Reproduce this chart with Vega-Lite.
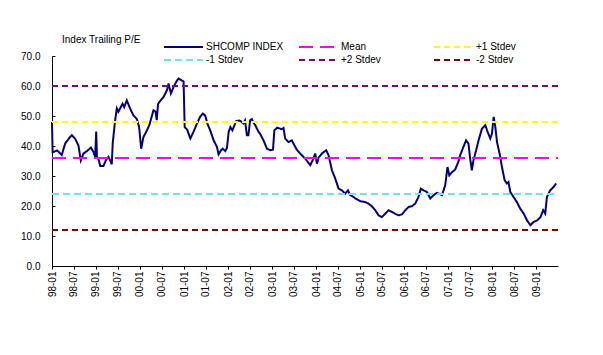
{
  "$schema": "https://vega.github.io/schema/vega-lite/v6.json",
  "width": 506,
  "height": 210,
  "autosize": {"type": "none"},
  "padding": {"left": 52, "top": 56, "right": 45, "bottom": 89},
  "background": "white",
  "title": {"text": "Index Trailing P/E", "anchor": "start", "frame": "group", "offset": -4, "dx": 10, "fontSize": 10, "fontWeight": "normal", "font": "Liberation Sans", "color": "black"},
  "config": {"view": {"stroke": null}, "font": "Liberation Sans"},
  "data": {"values": [
    {"date": "1998-01-01", "value": 48, "series": "SHCOMP INDEX"},
    {"date": "1998-01-06", "value": 38, "series": "SHCOMP INDEX"},
    {"date": "1998-01-14", "value": 38.0, "series": "SHCOMP INDEX"},
    {"date": "1998-02-12", "value": 38.5, "series": "SHCOMP INDEX"},
    {"date": "1998-03-09", "value": 37.6, "series": "SHCOMP INDEX"},
    {"date": "1998-03-23", "value": 37, "series": "SHCOMP INDEX"},
    {"date": "1998-04-20", "value": 40.8, "series": "SHCOMP INDEX"},
    {"date": "1998-05-31", "value": 43, "series": "SHCOMP INDEX"},
    {"date": "1998-06-14", "value": 43.6, "series": "SHCOMP INDEX"},
    {"date": "1998-07-11", "value": 42.5, "series": "SHCOMP INDEX"},
    {"date": "1998-08-08", "value": 40.2, "series": "SHCOMP INDEX"},
    {"date": "1998-08-28", "value": 35.2, "series": "SHCOMP INDEX"},
    {"date": "1998-09-19", "value": 37.5, "series": "SHCOMP INDEX"},
    {"date": "1998-10-22", "value": 38.4, "series": "SHCOMP INDEX"},
    {"date": "1998-11-20", "value": 39.5, "series": "SHCOMP INDEX"},
    {"date": "1998-12-11", "value": 38, "series": "SHCOMP INDEX"},
    {"date": "1998-12-25", "value": 36.4, "series": "SHCOMP INDEX"},
    {"date": "1999-01-03", "value": 44.8, "series": "SHCOMP INDEX"},
    {"date": "1999-01-09", "value": 36.4, "series": "SHCOMP INDEX"},
    {"date": "1999-01-22", "value": 35.5, "series": "SHCOMP INDEX"},
    {"date": "1999-02-06", "value": 33.3, "series": "SHCOMP INDEX"},
    {"date": "1999-03-03", "value": 33.3, "series": "SHCOMP INDEX"},
    {"date": "1999-03-25", "value": 35.3, "series": "SHCOMP INDEX"},
    {"date": "1999-04-14", "value": 36.4, "series": "SHCOMP INDEX"},
    {"date": "1999-04-28", "value": 35.3, "series": "SHCOMP INDEX"},
    {"date": "1999-05-12", "value": 33.9, "series": "SHCOMP INDEX"},
    {"date": "1999-05-20", "value": 41, "series": "SHCOMP INDEX"},
    {"date": "1999-06-09", "value": 48.6, "series": "SHCOMP INDEX"},
    {"date": "1999-06-23", "value": 52.5, "series": "SHCOMP INDEX"},
    {"date": "1999-07-06", "value": 51.4, "series": "SHCOMP INDEX"},
    {"date": "1999-07-20", "value": 52.5, "series": "SHCOMP INDEX"},
    {"date": "1999-08-09", "value": 54.1, "series": "SHCOMP INDEX"},
    {"date": "1999-08-23", "value": 53, "series": "SHCOMP INDEX"},
    {"date": "1999-09-14", "value": 55.2, "series": "SHCOMP INDEX"},
    {"date": "1999-10-11", "value": 52.5, "series": "SHCOMP INDEX"},
    {"date": "1999-11-08", "value": 50.2, "series": "SHCOMP INDEX"},
    {"date": "1999-12-06", "value": 49, "series": "SHCOMP INDEX"},
    {"date": "1999-12-25", "value": 46.3, "series": "SHCOMP INDEX"},
    {"date": "2000-01-11", "value": 39.1, "series": "SHCOMP INDEX"},
    {"date": "2000-01-30", "value": 43, "series": "SHCOMP INDEX"},
    {"date": "2000-02-28", "value": 45.2, "series": "SHCOMP INDEX"},
    {"date": "2000-03-19", "value": 47, "series": "SHCOMP INDEX"},
    {"date": "2000-04-22", "value": 51.9, "series": "SHCOMP INDEX"},
    {"date": "2000-05-10", "value": 51.4, "series": "SHCOMP INDEX"},
    {"date": "2000-05-19", "value": 48.6, "series": "SHCOMP INDEX"},
    {"date": "2000-05-30", "value": 54, "series": "SHCOMP INDEX"},
    {"date": "2000-06-11", "value": 54.7, "series": "SHCOMP INDEX"},
    {"date": "2000-07-14", "value": 56.3, "series": "SHCOMP INDEX"},
    {"date": "2000-08-12", "value": 58.6, "series": "SHCOMP INDEX"},
    {"date": "2000-08-25", "value": 60.8, "series": "SHCOMP INDEX"},
    {"date": "2000-09-14", "value": 57.5, "series": "SHCOMP INDEX"},
    {"date": "2000-10-06", "value": 59.7, "series": "SHCOMP INDEX"},
    {"date": "2000-11-04", "value": 61.9, "series": "SHCOMP INDEX"},
    {"date": "2000-11-17", "value": 62.5, "series": "SHCOMP INDEX"},
    {"date": "2000-12-15", "value": 61.8, "series": "SHCOMP INDEX"},
    {"date": "2000-12-28", "value": 61.5, "series": "SHCOMP INDEX"},
    {"date": "2001-01-06", "value": 46.3, "series": "SHCOMP INDEX"},
    {"date": "2001-01-26", "value": 45.5, "series": "SHCOMP INDEX"},
    {"date": "2001-02-22", "value": 42.5, "series": "SHCOMP INDEX"},
    {"date": "2001-03-19", "value": 44.6, "series": "SHCOMP INDEX"},
    {"date": "2001-04-17", "value": 47.4, "series": "SHCOMP INDEX"},
    {"date": "2001-05-14", "value": 49.7, "series": "SHCOMP INDEX"},
    {"date": "2001-06-06", "value": 50.8, "series": "SHCOMP INDEX"},
    {"date": "2001-06-25", "value": 50.2, "series": "SHCOMP INDEX"},
    {"date": "2001-07-14", "value": 47.4, "series": "SHCOMP INDEX"},
    {"date": "2001-08-06", "value": 45.2, "series": "SHCOMP INDEX"},
    {"date": "2001-09-03", "value": 41.9, "series": "SHCOMP INDEX"},
    {"date": "2001-10-01", "value": 39.7, "series": "SHCOMP INDEX"},
    {"date": "2001-10-14", "value": 37.2, "series": "SHCOMP INDEX"},
    {"date": "2001-11-04", "value": 38.6, "series": "SHCOMP INDEX"},
    {"date": "2001-11-18", "value": 39.1, "series": "SHCOMP INDEX"},
    {"date": "2001-12-09", "value": 38.3, "series": "SHCOMP INDEX"},
    {"date": "2001-12-23", "value": 39.4, "series": "SHCOMP INDEX"},
    {"date": "2002-01-06", "value": 44.7, "series": "SHCOMP INDEX"},
    {"date": "2002-01-20", "value": 46.3, "series": "SHCOMP INDEX"},
    {"date": "2002-02-06", "value": 45.2, "series": "SHCOMP INDEX"},
    {"date": "2002-03-09", "value": 48.3, "series": "SHCOMP INDEX"},
    {"date": "2002-04-06", "value": 48.5, "series": "SHCOMP INDEX"},
    {"date": "2002-04-25", "value": 48, "series": "SHCOMP INDEX"},
    {"date": "2002-05-09", "value": 47.5, "series": "SHCOMP INDEX"},
    {"date": "2002-05-22", "value": 48.5, "series": "SHCOMP INDEX"},
    {"date": "2002-06-06", "value": 43.6, "series": "SHCOMP INDEX"},
    {"date": "2002-06-19", "value": 43.6, "series": "SHCOMP INDEX"},
    {"date": "2002-07-03", "value": 48.6, "series": "SHCOMP INDEX"},
    {"date": "2002-07-17", "value": 49, "series": "SHCOMP INDEX"},
    {"date": "2002-07-30", "value": 47.8, "series": "SHCOMP INDEX"},
    {"date": "2002-08-14", "value": 47, "series": "SHCOMP INDEX"},
    {"date": "2002-09-11", "value": 44.7, "series": "SHCOMP INDEX"},
    {"date": "2002-09-25", "value": 44, "series": "SHCOMP INDEX"},
    {"date": "2002-10-22", "value": 41.9, "series": "SHCOMP INDEX"},
    {"date": "2002-11-20", "value": 39.1, "series": "SHCOMP INDEX"},
    {"date": "2002-12-17", "value": 38.6, "series": "SHCOMP INDEX"},
    {"date": "2003-01-09", "value": 38.8, "series": "SHCOMP INDEX"},
    {"date": "2003-01-20", "value": 45.2, "series": "SHCOMP INDEX"},
    {"date": "2003-02-12", "value": 46.1, "series": "SHCOMP INDEX"},
    {"date": "2003-03-23", "value": 45.6, "series": "SHCOMP INDEX"},
    {"date": "2003-04-06", "value": 46, "series": "SHCOMP INDEX"},
    {"date": "2003-04-20", "value": 42.5, "series": "SHCOMP INDEX"},
    {"date": "2003-05-17", "value": 41.3, "series": "SHCOMP INDEX"},
    {"date": "2003-06-14", "value": 41.9, "series": "SHCOMP INDEX"},
    {"date": "2003-06-28", "value": 40.8, "series": "SHCOMP INDEX"},
    {"date": "2003-07-25", "value": 38.8, "series": "SHCOMP INDEX"},
    {"date": "2003-08-22", "value": 37.5, "series": "SHCOMP INDEX"},
    {"date": "2003-10-03", "value": 35.8, "series": "SHCOMP INDEX"},
    {"date": "2003-11-14", "value": 33.6, "series": "SHCOMP INDEX"},
    {"date": "2003-12-11", "value": 35.8, "series": "SHCOMP INDEX"},
    {"date": "2003-12-25", "value": 37.5, "series": "SHCOMP INDEX"},
    {"date": "2004-01-09", "value": 34.1, "series": "SHCOMP INDEX"},
    {"date": "2004-01-22", "value": 36.1, "series": "SHCOMP INDEX"},
    {"date": "2004-02-19", "value": 37.5, "series": "SHCOMP INDEX"},
    {"date": "2004-03-25", "value": 38.6, "series": "SHCOMP INDEX"},
    {"date": "2004-04-14", "value": 36.9, "series": "SHCOMP INDEX"},
    {"date": "2004-05-12", "value": 31.9, "series": "SHCOMP INDEX"},
    {"date": "2004-06-09", "value": 29.1, "series": "SHCOMP INDEX"},
    {"date": "2004-07-06", "value": 25.8, "series": "SHCOMP INDEX"},
    {"date": "2004-08-03", "value": 25.2, "series": "SHCOMP INDEX"},
    {"date": "2004-08-30", "value": 24.1, "series": "SHCOMP INDEX"},
    {"date": "2004-09-22", "value": 25.2, "series": "SHCOMP INDEX"},
    {"date": "2004-10-11", "value": 23.6, "series": "SHCOMP INDEX"},
    {"date": "2004-11-08", "value": 23, "series": "SHCOMP INDEX"},
    {"date": "2004-11-22", "value": 22.5, "series": "SHCOMP INDEX"},
    {"date": "2005-01-03", "value": 21.6, "series": "SHCOMP INDEX"},
    {"date": "2005-02-14", "value": 21.3, "series": "SHCOMP INDEX"},
    {"date": "2005-03-11", "value": 20.8, "series": "SHCOMP INDEX"},
    {"date": "2005-04-09", "value": 19.9, "series": "SHCOMP INDEX"},
    {"date": "2005-05-06", "value": 18.6, "series": "SHCOMP INDEX"},
    {"date": "2005-06-03", "value": 16.9, "series": "SHCOMP INDEX"},
    {"date": "2005-06-30", "value": 16.3, "series": "SHCOMP INDEX"},
    {"date": "2005-07-28", "value": 17.4, "series": "SHCOMP INDEX"},
    {"date": "2005-08-25", "value": 18.6, "series": "SHCOMP INDEX"},
    {"date": "2005-09-22", "value": 18, "series": "SHCOMP INDEX"},
    {"date": "2005-10-19", "value": 17.4, "series": "SHCOMP INDEX"},
    {"date": "2005-11-16", "value": 16.9, "series": "SHCOMP INDEX"},
    {"date": "2005-12-14", "value": 17.2, "series": "SHCOMP INDEX"},
    {"date": "2006-01-11", "value": 18.6, "series": "SHCOMP INDEX"},
    {"date": "2006-02-08", "value": 19.7, "series": "SHCOMP INDEX"},
    {"date": "2006-03-06", "value": 19.9, "series": "SHCOMP INDEX"},
    {"date": "2006-04-03", "value": 20.8, "series": "SHCOMP INDEX"},
    {"date": "2006-04-30", "value": 23, "series": "SHCOMP INDEX"},
    {"date": "2006-05-20", "value": 25.8, "series": "SHCOMP INDEX"},
    {"date": "2006-06-11", "value": 25.2, "series": "SHCOMP INDEX"},
    {"date": "2006-07-09", "value": 24.7, "series": "SHCOMP INDEX"},
    {"date": "2006-08-06", "value": 22.5, "series": "SHCOMP INDEX"},
    {"date": "2006-09-03", "value": 23.6, "series": "SHCOMP INDEX"},
    {"date": "2006-09-30", "value": 24.4, "series": "SHCOMP INDEX"},
    {"date": "2006-11-11", "value": 23.6, "series": "SHCOMP INDEX"},
    {"date": "2006-12-08", "value": 26.9, "series": "SHCOMP INDEX"},
    {"date": "2006-12-27", "value": 33, "series": "SHCOMP INDEX"},
    {"date": "2007-01-11", "value": 30.2, "series": "SHCOMP INDEX"},
    {"date": "2007-02-03", "value": 31.3, "series": "SHCOMP INDEX"},
    {"date": "2007-02-28", "value": 32.1, "series": "SHCOMP INDEX"},
    {"date": "2007-03-27", "value": 34.7, "series": "SHCOMP INDEX"},
    {"date": "2007-04-11", "value": 36.9, "series": "SHCOMP INDEX"},
    {"date": "2007-05-08", "value": 39.7, "series": "SHCOMP INDEX"},
    {"date": "2007-05-30", "value": 41.9, "series": "SHCOMP INDEX"},
    {"date": "2007-06-19", "value": 40.8, "series": "SHCOMP INDEX"},
    {"date": "2007-07-03", "value": 35.8, "series": "SHCOMP INDEX"},
    {"date": "2007-07-17", "value": 31.9, "series": "SHCOMP INDEX"},
    {"date": "2007-07-30", "value": 35.2, "series": "SHCOMP INDEX"},
    {"date": "2007-08-22", "value": 38.6, "series": "SHCOMP INDEX"},
    {"date": "2007-09-11", "value": 41.9, "series": "SHCOMP INDEX"},
    {"date": "2007-10-09", "value": 45.8, "series": "SHCOMP INDEX"},
    {"date": "2007-11-06", "value": 46.9, "series": "SHCOMP INDEX"},
    {"date": "2007-11-25", "value": 44.7, "series": "SHCOMP INDEX"},
    {"date": "2007-12-17", "value": 42.5, "series": "SHCOMP INDEX"},
    {"date": "2007-12-31", "value": 44.1, "series": "SHCOMP INDEX"},
    {"date": "2008-01-14", "value": 49.7, "series": "SHCOMP INDEX"},
    {"date": "2008-01-28", "value": 46.3, "series": "SHCOMP INDEX"},
    {"date": "2008-02-11", "value": 41.3, "series": "SHCOMP INDEX"},
    {"date": "2008-03-03", "value": 37.5, "series": "SHCOMP INDEX"},
    {"date": "2008-03-23", "value": 33, "series": "SHCOMP INDEX"},
    {"date": "2008-04-14", "value": 28.6, "series": "SHCOMP INDEX"},
    {"date": "2008-05-03", "value": 27.5, "series": "SHCOMP INDEX"},
    {"date": "2008-05-16", "value": 28, "series": "SHCOMP INDEX"},
    {"date": "2008-05-31", "value": 24.7, "series": "SHCOMP INDEX"},
    {"date": "2008-06-27", "value": 23, "series": "SHCOMP INDEX"},
    {"date": "2008-07-25", "value": 21.3, "series": "SHCOMP INDEX"},
    {"date": "2008-08-22", "value": 19.1, "series": "SHCOMP INDEX"},
    {"date": "2008-09-19", "value": 17.5, "series": "SHCOMP INDEX"},
    {"date": "2008-10-17", "value": 15.2, "series": "SHCOMP INDEX"},
    {"date": "2008-11-14", "value": 13.6, "series": "SHCOMP INDEX"},
    {"date": "2008-12-11", "value": 14.7, "series": "SHCOMP INDEX"},
    {"date": "2009-01-09", "value": 15.2, "series": "SHCOMP INDEX"},
    {"date": "2009-02-06", "value": 16.3, "series": "SHCOMP INDEX"},
    {"date": "2009-02-28", "value": 18.6, "series": "SHCOMP INDEX"},
    {"date": "2009-03-17", "value": 17.5, "series": "SHCOMP INDEX"},
    {"date": "2009-03-31", "value": 23, "series": "SHCOMP INDEX"},
    {"date": "2009-04-27", "value": 25.2, "series": "SHCOMP INDEX"},
    {"date": "2009-05-24", "value": 26.3, "series": "SHCOMP INDEX"},
    {"date": "2009-06-16", "value": 27.5, "series": "SHCOMP INDEX"},
    {"date": "1998-01-01", "value": 36, "series": "Mean"},
    {"date": "2009-07-01", "value": 36, "series": "Mean"},
    {"date": "1998-01-01", "value": 48, "series": "+1 Stdev"},
    {"date": "2009-07-01", "value": 48, "series": "+1 Stdev"},
    {"date": "1998-01-01", "value": 24, "series": "-1 Stdev"},
    {"date": "2009-07-01", "value": 24, "series": "-1 Stdev"},
    {"date": "1998-01-01", "value": 60, "series": "+2 Stdev"},
    {"date": "2009-07-01", "value": 60, "series": "+2 Stdev"},
    {"date": "1998-01-01", "value": 12, "series": "-2 Stdev"},
    {"date": "2009-07-01", "value": 12, "series": "-2 Stdev"}
  ]},
  "mark": {"type": "line", "strokeWidth": 2, "clip": false},
  "encoding": {
    "x": {
      "field": "date", "type": "temporal",
      "scale": {"type": "utc", "domain": [{"year": 1998, "month": 1, "date": 1, "utc": true}, {"year": 2009, "month": 7, "date": 1, "utc": true}]},
      "axis": {
        "values": [
          {"year": 1998, "month": 1, "date": 1, "utc": true}, {"year": 1998, "month": 7, "date": 1, "utc": true},
          {"year": 1999, "month": 1, "date": 1, "utc": true}, {"year": 1999, "month": 7, "date": 1, "utc": true},
          {"year": 2000, "month": 1, "date": 1, "utc": true}, {"year": 2000, "month": 7, "date": 1, "utc": true},
          {"year": 2001, "month": 1, "date": 1, "utc": true}, {"year": 2001, "month": 7, "date": 1, "utc": true},
          {"year": 2002, "month": 1, "date": 1, "utc": true}, {"year": 2002, "month": 7, "date": 1, "utc": true},
          {"year": 2003, "month": 1, "date": 1, "utc": true}, {"year": 2003, "month": 7, "date": 1, "utc": true},
          {"year": 2004, "month": 1, "date": 1, "utc": true}, {"year": 2004, "month": 7, "date": 1, "utc": true},
          {"year": 2005, "month": 1, "date": 1, "utc": true}, {"year": 2005, "month": 7, "date": 1, "utc": true},
          {"year": 2006, "month": 1, "date": 1, "utc": true}, {"year": 2006, "month": 7, "date": 1, "utc": true},
          {"year": 2007, "month": 1, "date": 1, "utc": true}, {"year": 2007, "month": 7, "date": 1, "utc": true},
          {"year": 2008, "month": 1, "date": 1, "utc": true}, {"year": 2008, "month": 7, "date": 1, "utc": true},
          {"year": 2009, "month": 1, "date": 1, "utc": true}
        ],
        "format": "%y-%m",
        "labelAngle": 270,
        "labelFontSize": 10,
        "labelColor": "black",
        "labelOverlap": false,
        "labelFlush": false,
        "tickSize": 3,
        "tickColor": "black",
        "domainColor": "black",
        "labelPadding": 2,
        "grid": false,
        "title": null
      }
    },
    "y": {
      "field": "value", "type": "quantitative",
      "scale": {"domain": [0, 70], "nice": false},
      "axis": {
        "values": [0, 10, 20, 30, 40, 50, 60, 70],
        "format": ".1f",
        "labelFontSize": 10,
        "labelColor": "black",
        "tickSize": -3,
        "tickColor": "black",
        "domainColor": "black",
        "labelPadding": 15,
        "grid": false,
        "title": null
      }
    },
    "color": {
      "field": "series", "type": "nominal",
      "scale": {
        "domain": ["SHCOMP INDEX", "Mean", "+1 Stdev", "-1 Stdev", "+2 Stdev", "-2 Stdev"],
        "range": ["#000080", "#FF00FF", "#FFFF00", "#66E8F0", "#800080", "#800000"]
      },
      "legend": {
        "orient": "none",
        "legendX": 111,
        "legendY": -15,
        "columns": 3,
        "direction": "horizontal",
        "gridAlign": "all",
        "columnPadding": 14,
        "rowPadding": 1,
        "clipHeight": 12,
        "symbolType": "stroke",
        "symbolSize": 1521,
        "symbolStrokeWidth": 2,
        "labelFontSize": 10,
        "labelColor": "black",
        "labelOffset": 2,
        "labelLimit": 200,
        "title": null
      }
    },
    "strokeDash": {
      "field": "series", "type": "nominal",
      "scale": {
        "domain": ["SHCOMP INDEX", "Mean", "+1 Stdev", "-1 Stdev", "+2 Stdev", "-2 Stdev"],
        "range": [[1, 0], [14, 7], [6, 4], [7, 4], [6, 4], [6, 4]]
      },
      "legend": {
        "orient": "none",
        "legendX": 111,
        "legendY": -15,
        "columns": 3,
        "direction": "horizontal",
        "gridAlign": "all",
        "columnPadding": 14,
        "rowPadding": 1,
        "clipHeight": 12,
        "symbolType": "stroke",
        "symbolSize": 1521,
        "symbolStrokeWidth": 2,
        "labelFontSize": 10,
        "labelColor": "black",
        "labelOffset": 2,
        "labelLimit": 200,
        "title": null
      }
    }
  }
}
